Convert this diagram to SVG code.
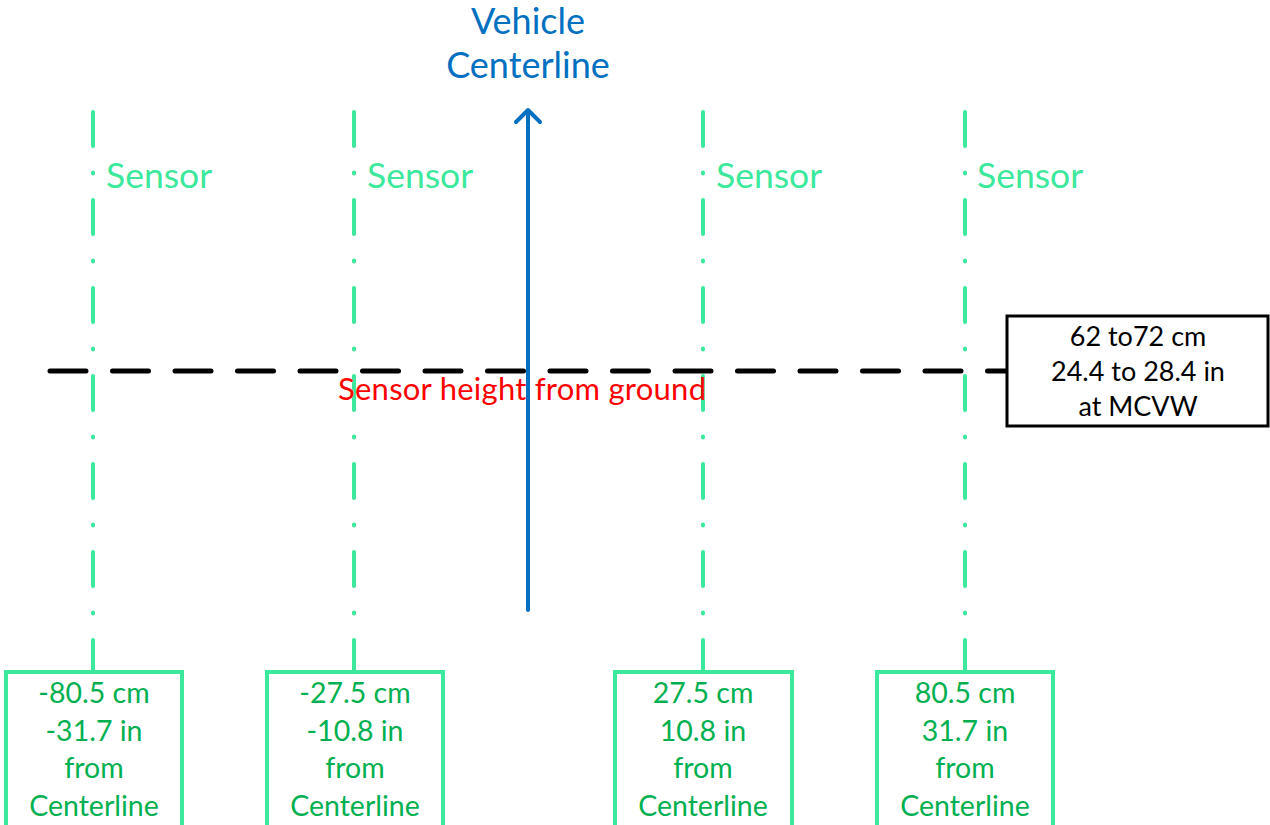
<svg xmlns="http://www.w3.org/2000/svg" width="1270" height="825" viewBox="0 0 1270 825">
<style>
.sl{stroke:#3CE89C;stroke-width:4;stroke-linecap:round;stroke-dasharray:34 26.5 1 26.5;stroke-dashoffset:-4;fill:none}
.gb{fill:#fff;stroke:#3CE89C;stroke-width:4}
.gt{font-family:Lato,"Liberation Sans",sans-serif;font-size:28.5px;fill:#00B050;text-anchor:middle}
.sn{font-family:Lato,"Liberation Sans",sans-serif;font-size:35.5px;fill:#3CE89C}
.vt{font-family:Lato,"Liberation Sans",sans-serif;font-size:36px;fill:#0070C0;text-anchor:middle}
.bt{font-family:Lato,"Liberation Sans",sans-serif;font-size:27px;fill:#000;text-anchor:middle}
.rt{font-family:Lato,"Liberation Sans",sans-serif;font-size:31px;fill:#FF0000}
</style>
<rect width="1270" height="825" fill="#fff"/>
<g id="connectors">
<line class="sl" x1="93" y1="108" x2="93" y2="672"/>
<line class="sl" x1="354" y1="108" x2="354" y2="672"/>
<line class="sl" x1="703" y1="108" x2="703" y2="672"/>
<line class="sl" x1="965" y1="108" x2="965" y2="672"/>
<line x1="50" y1="371" x2="1008" y2="371" stroke="#000" stroke-width="5" stroke-linecap="round" stroke-dasharray="36 26.5"/>
<line x1="528" y1="610" x2="528" y2="111" stroke="#0070C0" stroke-width="4" stroke-linecap="round"/>
<polyline points="516,122 528,110 540,122" fill="none" stroke="#0070C0" stroke-width="4" stroke-linecap="round" stroke-linejoin="round"/>
</g>
<g id="title">
<text class="vt" x="528" y="34">Vehicle</text>
<text class="vt" x="528" y="78">Centerline</text>
</g>
<g id="sensor-labels">
<text class="sn" x="106" y="188">Sensor</text>
<text class="sn" x="367" y="188">Sensor</text>
<text class="sn" x="716" y="188">Sensor</text>
<text class="sn" x="977" y="188">Sensor</text>
</g>
<g id="height-label">
<text class="rt" x="338" y="400" textLength="368">Sensor height from ground</text>
</g>
<g id="height-box">
<rect x="1007" y="316" width="261" height="110" fill="#fff" stroke="#000" stroke-width="3"/>
<text class="bt" x="1138" y="346">62 to72 cm</text>
<text class="bt" x="1138" y="381">24.4 to 28.4 in</text>
<text class="bt" x="1138" y="416">at MCVW</text>
</g>
<g id="box1">
<rect class="gb" x="6" y="672" width="176" height="170"/>
<text class="gt" x="94" y="703">-80.5 cm</text>
<text class="gt" x="94" y="741">-31.7 in</text>
<text class="gt" x="94" y="778">from</text>
<text class="gt" x="94" y="816">Centerline</text>
</g>
<g id="box2">
<rect class="gb" x="267" y="672" width="176" height="170"/>
<text class="gt" x="355" y="703">-27.5 cm</text>
<text class="gt" x="355" y="741">-10.8 in</text>
<text class="gt" x="355" y="778">from</text>
<text class="gt" x="355" y="816">Centerline</text>
</g>
<g id="box3">
<rect class="gb" x="615" y="672" width="177" height="170"/>
<text class="gt" x="703" y="703">27.5 cm</text>
<text class="gt" x="703" y="741">10.8 in</text>
<text class="gt" x="703" y="778">from</text>
<text class="gt" x="703" y="816">Centerline</text>
</g>
<g id="box4">
<rect class="gb" x="877" y="672" width="176" height="170"/>
<text class="gt" x="965" y="703">80.5 cm</text>
<text class="gt" x="965" y="741">31.7 in</text>
<text class="gt" x="965" y="778">from</text>
<text class="gt" x="965" y="816">Centerline</text>
</g>
</svg>
